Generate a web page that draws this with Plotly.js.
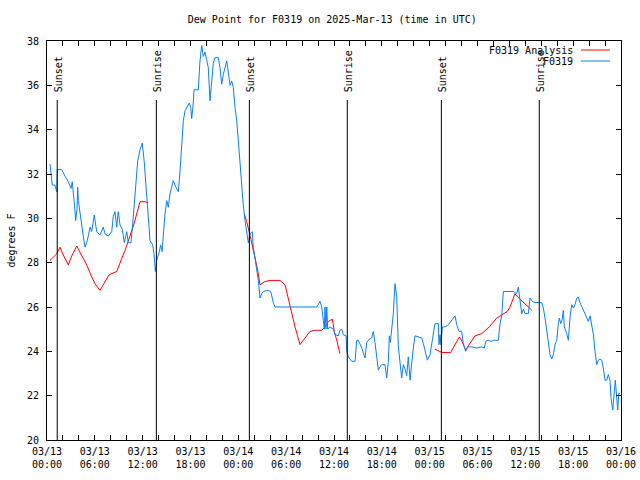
<!DOCTYPE html>
<html>
<head>
<meta charset="utf-8">
<script src="https://cdn.plot.ly/plotly-3.0.1.min.js"></script>
<style>html,body{margin:0;padding:0;background:#fff;}#chart{width:640px;height:480px;}</style>
</head>
<body>
<div id="chart"></div>
<script>
// ---- data (hours after 2025-03-13 00:00 UTC) ----
const obsHours = [0.38,0.50,0.66,1.00,1.22,1.29,1.84,2.26,2.67,3.01,3.17,3.42,3.60,3.76,3.85,3.93,4.26,4.55,4.77,4.98,5.18,5.39,5.61,5.93,6.23,6.65,7.06,7.28,7.69,8.12,8.32,8.53,8.74,8.94,9.16,9.45,9.70,10.00,10.20,10.54,10.83,11.13,11.38,11.67,11.95,12.21,12.51,12.71,12.92,13.26,13.42,13.59,13.76,14.09,14.26,14.43,14.59,14.80,15.02,15.22,15.43,15.84,16.18,16.47,16.68,16.90,17.10,17.31,17.85,18.03,18.15,18.35,18.44,18.98,19.19,19.41,19.61,19.82,20.03,20.23,20.45,20.66,20.86,21.07,21.49,21.70,21.91,22.12,22.33,22.54,22.74,22.96,23.17,23.37,23.58,23.80,24.00,24.21,24.42,24.62,24.84,25.05,25.25,25.46,25.75,25.88,26.09,26.30,26.51,26.72,26.93,27.13,27.76,28.06,28.39,28.60,30.48,32.36,33.83,34.25,34.46,34.66,34.79,34.87,35.00,35.09,35.21,35.50,35.92,36.13,36.54,36.75,36.97,37.17,37.51,37.60,37.80,38.22,38.64,38.85,39.05,39.48,39.89,40.10,40.43,40.73,40.93,41.14,41.36,41.56,41.77,41.99,42.40,42.61,42.81,42.94,43.07,43.24,43.44,43.65,43.87,44.07,44.28,44.49,44.70,44.91,45.12,45.32,45.54,45.75,45.95,46.16,47.00,47.21,47.42,47.71,48.04,48.26,48.46,48.67,49.08,49.17,49.30,49.42,49.59,49.93,50.34,50.77,51.18,51.40,51.68,52.02,52.22,52.52,52.77,53.27,53.90,54.53,54.86,55.03,55.36,55.70,55.98,56.61,56.83,57.04,57.24,58.49,58.92,59.12,59.33,59.55,59.75,59.96,60.38,60.59,60.88,61.21,62.05,62.26,62.47,62.68,62.88,63.10,63.31,63.51,63.72,63.94,64.14,64.26,64.44,64.60,64.77,64.89,65.19,65.40,65.61,65.82,66.03,66.23,66.45,66.65,66.86,67.28,67.70,67.91,68.12,68.33,68.54,68.74,68.96,69.16,69.37,69.58,69.78,69.99,70.21,70.41,70.62,70.75,70.96,71.12,71.29,71.44,71.59,71.72,71.88];
const obsValues = [32.45,32.0,31.5,31.5,31.2,32.2,32.2,31.9,31.65,31.35,31.65,30.7,29.9,30.4,31.4,30.8,29.8,29.2,28.7,28.9,29.2,29.6,29.4,30.15,29.4,29.25,29.6,29.3,29.2,29.4,30.1,30.3,29.6,30.3,29.7,29.5,28.9,29.4,28.9,28.9,30.1,31.6,32.6,33.1,33.4,32.5,31.0,29.9,29.0,28.8,28.4,27.6,28.1,28.5,28.8,28.5,29.4,30.2,30.8,30.5,31.1,31.7,31.4,31.2,32.1,33.3,34.4,34.85,35.2,35.0,34.5,35.2,35.8,35.8,37.1,37.8,37.3,37.5,37.2,36.8,35.3,36.3,37.0,37.25,37.25,36.8,36.05,36.5,36.8,37.1,36.6,36.0,36.2,35.9,35.0,34.4,33.5,32.45,31.5,30.6,29.9,29.3,28.9,29.3,29.4,28.7,28.1,27.7,27.2,26.4,26.6,26.7,26.75,26.7,26.2,26.0,26.0,26.0,26.0,26.25,26.0,25.4,25.0,26.0,25.0,26.0,25.0,25.1,25.0,24.75,24.7,24.95,25.0,24.75,24.7,24.0,23.75,23.55,23.55,24.5,24.5,24.15,23.7,24.4,24.55,24.6,24.9,24.4,23.75,23.15,23.3,23.4,23.4,22.8,23.5,24.7,24.4,24.9,25.7,27.05,26.45,24.2,23.5,22.8,23.4,23.2,22.9,23.75,22.7,23.6,24.15,24.7,24.6,24.35,24.0,23.6,23.85,24.3,24.9,25.25,25.25,24.3,24.75,24.3,25.1,25.1,25.2,25.4,25.6,25.2,24.9,24.9,24.35,24.0,24.2,24.2,24.15,24.2,24.15,24.45,24.5,24.45,24.5,24.5,25.25,25.6,26.7,26.7,26.6,26.9,26.3,25.7,25.9,25.7,25.7,26.4,26.25,26.2,26.2,25.95,25.5,24.95,24.35,23.85,23.65,23.85,24.3,24.5,25.25,25.5,25.25,25.4,25.85,25.1,24.8,24.5,25.55,26.1,25.95,26.1,26.4,26.45,26.2,25.85,25.55,25.35,25.6,25.25,24.75,24.0,23.4,23.6,23.65,23.6,23.25,22.7,22.7,22.95,22.7,21.9,21.35,22.0,22.7,22.0,21.35,22.1,22.1];

const anaHours = [0.38,0.66,1.22,1.63,2.04,2.67,3.10,3.73,4.35,4.98,5.61,6.02,6.65,7.28,7.78,8.74,9.16,9.78,10.41,10.95,11.67,12.29,12.71,null,
  24.75,25.05,25.46,25.68,26.09,26.38,26.72,27.35,27.97,29.23,29.86,30.48,31.11,31.74,32.36,32.99,33.62,34.46,34.87,35.29,35.79,36.04,36.34,36.75,null,
  48.67,49.51,50.64,51.18,51.72,52.06,52.52,52.85,53.35,53.70,54.53,55.48,56.41,57.24,57.74,58.08,58.70,59.33,60.09,60.84];
const anaValues = [28.1,28.2,28.4,28.7,28.35,27.9,28.3,28.75,28.35,27.9,27.35,27.05,26.75,27.15,27.45,27.6,27.95,28.55,29.2,29.8,30.75,30.75,30.7,null,
  30.2,29.85,29.25,28.9,28.3,27.75,27.0,27.15,27.2,27.2,27.0,26.0,25.1,24.3,24.6,24.9,24.95,24.95,25.1,25.35,25.45,24.9,24.5,23.9,null,
  24.1,23.95,23.95,24.3,24.65,24.45,24.05,24.25,24.5,24.7,24.8,25.1,25.5,25.7,25.8,26.0,26.6,26.35,26.1,25.85];

const sunTimes = ['2025-03-13 01:17','2025-03-13 13:43','2025-03-14 01:23','2025-03-14 13:40','2025-03-15 01:28','2025-03-15 13:45'];
const sunLabels = ['Sunset','Sunrise','Sunset','Sunrise','Sunset','Sunrise'];
const seriesNames = ['F0319 Analysis','F0319'];
const seriesColors = ['#ff0000','#0a80f0'];
const chartTitle = 'Dew Point for F0319 on 2025-Mar-13 (time in UTC)';
const yTitle = 'degrees F';

// ---- helpers ----
const base = Date.UTC(2025,2,13,0,0,0);
function toDate(h){
  if (h === null) return null;
  return new Date(base + h*3600000).toISOString().slice(0,19).replace('T',' ');
}
const FONT = {family:'DejaVu Sans Mono, Liberation Mono, monospace', size:10, color:'#000'};

// plot area in pixels
const L=47, R=621, T=41, B=440;
const px = x => (x-L)/(R-L);
const py = y => (B-y)/(B-T);

const traces = [
  {x: anaHours.map(toDate), y: anaValues, type:'scatter', mode:'lines', name:seriesNames[0],
   line:{color:seriesColors[0], width:1}, connectgaps:false, hoverinfo:'skip'},
  {x: obsHours.map(toDate), y: obsValues, type:'scatter', mode:'lines', name:seriesNames[1],
   line:{color:seriesColors[1], width:1}, hoverinfo:'skip'}
];

const shapes = sunTimes.map(t => ({type:'line', xref:'x', yref:'paper', x0:t, x1:t, y0:0, y1:py(100),
  line:{color:'#000', width:1}}));
const annotations = sunTimes.map((t,i) => ({xref:'x', yref:'paper', x:t, y:py(100), text:sunLabels[i],
  textangle:-90, showarrow:false, xanchor:'center', yanchor:'bottom', yshift:6, xshift:1, font:FONT}));

// legend (gnuplot style: text right, sample to the right)
const legRows = [50, 61];
seriesNames.forEach((n,i) => {
  annotations.push({xref:'paper', yref:'paper', x:px(575), y:py(legRows[i]), text:n, showarrow:false,
    xanchor:'right', yanchor:'middle', font:FONT});
  shapes.push({type:'line', xref:'paper', yref:'paper', x0:px(581), x1:px(610), y0:py(legRows[i]), y1:py(legRows[i]),
    line:{color:seriesColors[i], width:1}});
});

const layout = {
  width:640, height:480,
  margin:{l:L, r:640-R, t:T, b:480-B, pad:0},
  paper_bgcolor:'#fff', plot_bgcolor:'#fff',
  font: FONT,
  showlegend:false,
  title:{text:chartTitle, font:FONT, xref:'paper', x:0.497, xanchor:'center', yref:'container', y:1-19/480, yanchor:'middle'},
  xaxis:{type:'date', range:['2025-03-13 00:00','2025-03-16 00:00'], tick0:'2025-03-13 00:00', dtick:6*3600000,
    tickformat:'%m/%d<br>%H:%M', ticks:'inside', ticklen:5, tickcolor:'#000', showline:true, linecolor:'#000', linewidth:1,
    mirror:'ticks', showgrid:false, zeroline:false, tickfont:FONT, ticklabelstandoff:2,
    minor:{dtick:2*3600000, ticks:'inside', ticklen:5, tickcolor:'#000', showgrid:false}},
  yaxis:{range:[20,38], dtick:2, ticks:'inside', ticklen:5, tickcolor:'#000', showline:true, linecolor:'#000', linewidth:1,
    mirror:'ticks', showgrid:false, zeroline:false, tickfont:FONT, ticklabelstandoff:5,
    title:{text:yTitle, font:FONT, standoff:9}},
  shapes: shapes,
  annotations: annotations
};

Plotly.newPlot('chart', traces, layout, {staticPlot:true, displayModeBar:false});
</script>
</body>
</html>
